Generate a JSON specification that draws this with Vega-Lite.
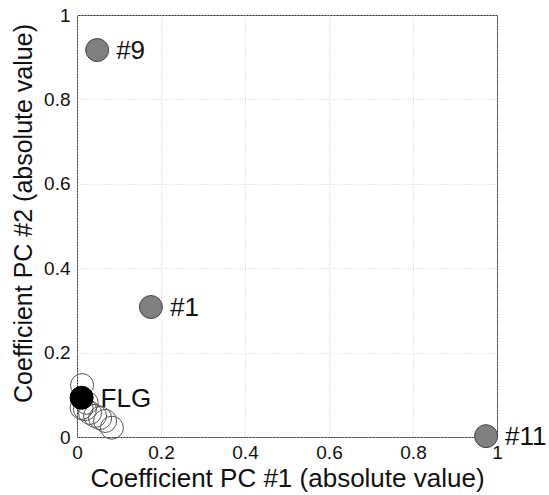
{
  "$schema": "https://vega.github.io/schema/vega-lite/v6.json",
  "width": 420,
  "height": 422,
  "autosize": {"type": "none"},
  "padding": {"left": 77, "top": 15, "right": 52, "bottom": 58},
  "background": "white",
  "config": {
    "view": {"stroke": "#333333", "strokeWidth": 1},
    "font": "Liberation Sans"
  },
  "data": {
    "values": [
      {"x": 0.012, "y": 0.123, "kind": "open", "label": ""},
      {"x": 0.019, "y": 0.066, "kind": "open", "label": ""},
      {"x": 0.031, "y": 0.057, "kind": "open", "label": ""},
      {"x": 0.043, "y": 0.050, "kind": "open", "label": ""},
      {"x": 0.055, "y": 0.045, "kind": "open", "label": ""},
      {"x": 0.067, "y": 0.038, "kind": "open", "label": ""},
      {"x": 0.083, "y": 0.022, "kind": "open", "label": ""},
      {"x": 0.023, "y": 0.081, "kind": "open", "label": ""},
      {"x": 0.011, "y": 0.069, "kind": "open", "label": ""},
      {"x": 0.011, "y": 0.093, "kind": "black", "label": "FLG"},
      {"x": 0.048, "y": 0.917, "kind": "gray", "label": "#9"},
      {"x": 0.176, "y": 0.308, "kind": "gray", "label": "#1"},
      {"x": 0.974, "y": 0.002, "kind": "gray", "label": "#11"}
    ]
  },
  "encoding": {
    "x": {
      "field": "x", "type": "quantitative",
      "scale": {"domain": [0, 1], "nice": false, "zero": false},
      "axis": {
        "title": "Coefficient PC #1 (absolute value)",
        "values": [0, 0.2, 0.4, 0.6, 0.8, 1],
        "labelExpr": "datum.value == 0 ? '0' : datum.value == 1 ? '1' : format(datum.value, '.1f')",
        "domain": false, "ticks": false,
        "labelFontSize": 19, "labelColor": "#111", "labelPadding": 6,
        "labelFlush": false,
        "titleFontSize": 26, "titleFontWeight": "normal", "titleColor": "#111", "titlePadding": 3,
        "grid": true, "gridColor": "#cfcfcf", "gridDash": [1, 2], "gridWidth": 1
      }
    },
    "y": {
      "field": "y", "type": "quantitative",
      "scale": {"domain": [0, 1], "nice": false, "zero": false},
      "axis": {
        "title": "Coefficient PC #2 (absolute value)",
        "values": [0, 0.2, 0.4, 0.6, 0.8, 1],
        "labelExpr": "datum.value == 0 ? '0' : datum.value == 1 ? '1' : format(datum.value, '.1f')",
        "domain": false, "ticks": false,
        "labelFontSize": 19, "labelColor": "#111", "labelPadding": 7,
        "labelFlush": false,
        "titleFontSize": 25, "titleFontWeight": "normal", "titleColor": "#111", "titlePadding": 7,
        "titleY": 198,
        "grid": true, "gridColor": "#cfcfcf", "gridDash": [1, 2], "gridWidth": 1
      }
    }
  },
  "layer": [
    {
      "transform": [{"filter": "datum.kind == 'open'"}],
      "mark": {"type": "point", "shape": "circle", "size": 530, "filled": false, "stroke": "#555555", "strokeWidth": 1, "opacity": 1}
    },
    {
      "transform": [{"filter": "datum.kind == 'black'"}],
      "mark": {"type": "point", "shape": "circle", "size": 530, "filled": true, "fill": "#000000", "stroke": "#000000", "strokeWidth": 1, "opacity": 1}
    },
    {
      "transform": [{"filter": "datum.kind == 'gray'"}],
      "mark": {"type": "point", "shape": "circle", "size": 530, "filled": true, "fill": "#808080", "stroke": "#444444", "strokeWidth": 1, "opacity": 1}
    },
    {
      "transform": [{"filter": "datum.label != ''"}],
      "mark": {"type": "text", "align": "left", "baseline": "middle", "dx": 19, "dy": 1, "fontSize": 26, "color": "#111111"},
      "encoding": {"text": {"field": "label"}}
    }
  ]
}
